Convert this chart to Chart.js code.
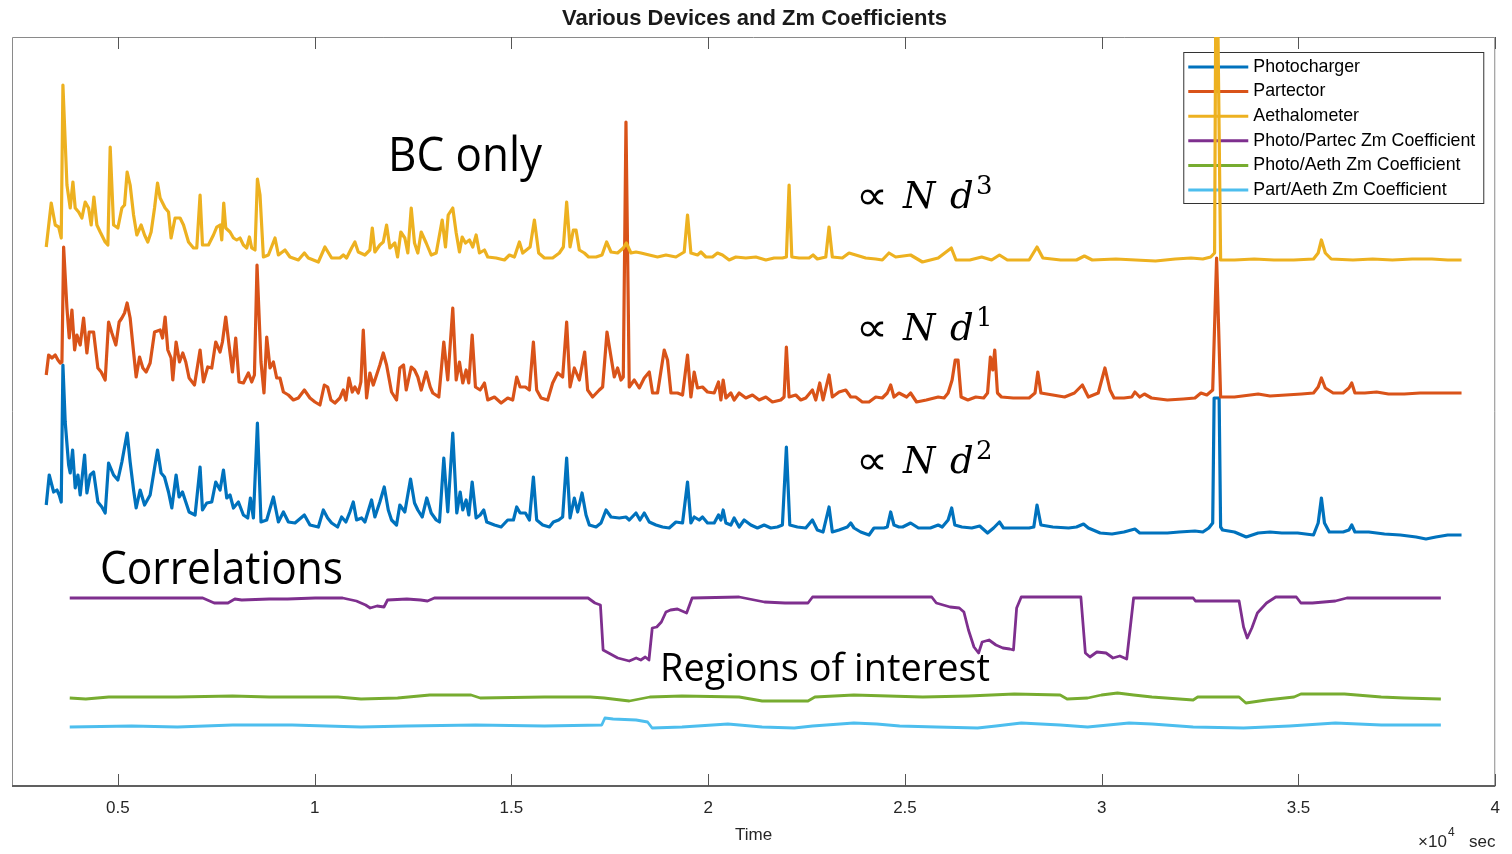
<!DOCTYPE html>
<html>
<head>
<meta charset="utf-8">
<title>Various Devices and Zm Coefficients</title>
<script src="https://cdn.jsdelivr.net/npm/chart.js@4.4.0/dist/chart.umd.min.js"></script>
<style>
  html, body { margin: 0; padding: 0; background: #fff; }
  #wrap { width: 1512px; height: 854px; }
</style>
</head>
<body>
<div id="wrap"><canvas id="zmChart" width="1512" height="854"></canvas></div>
<script>
// Time axis, seconds
const xTicks = [5000, 10000, 15000, 20000, 25000, 30000, 35000, 40000];

// Photocharger (signal, arbitrary offset units)
const photoTime = [
    3180, 3256, 3368, 3452, 3510, 3561, 3604, 3662, 3749, 3789,
    3850, 3916, 3985, 4043, 4155, 4213, 4297, 4383, 4492, 4594,
    4678, 4764, 4891, 5000, 5102, 5236, 5312, 5399, 5465, 5566,
    5678, 5820, 5932, 6008, 6099, 6185, 6287, 6371, 6480, 6556,
    6642, 6726, 6810, 6962, 7089, 7150, 7259, 7386, 7487, 7597,
    7683, 7767, 7850, 7937, 8063, 8190, 8300, 8368, 8444, 8546,
    8637, 8782, 8952, 9079, 9206, 9333, 9500, 9739, 9881, 10094,
    10221, 10330, 10432, 10584, 10685, 10795, 10896, 10982, 11066, 11193,
    11277, 11447, 11531, 11657, 11769, 11871, 11954, 12081, 12165, 12292,
    12437, 12538, 12622, 12733, 12850, 12962, 13089, 13173, 13282, 13383,
    13510, 13612, 13698, 13764, 13850, 13917, 14003, 14104, 14206, 14297,
    14373, 14569, 14739, 14906, 15051, 15135, 15221, 15356, 15457, 15559,
    15642, 15795, 15965, 16066, 16201, 16302, 16404, 16490, 16599, 16683,
    16795, 16896, 16980, 17150, 17277, 17404, 17531, 17741, 17911, 17995,
    18165, 18267, 18376, 18503, 18673, 18840, 19010, 19180, 19348, 19475,
    19561, 19645, 19772, 19856, 19983, 20153, 20262, 20323, 20381, 20450,
    20576, 20660, 20787, 20914, 21084, 21252, 21422, 21591, 21759, 21886,
    21987, 22074, 22267, 22480, 22648, 22774, 22919, 23071, 23155, 23325,
    23536, 23622, 23706, 23876, 24087, 24213, 24467, 24551, 24637, 24721,
    24848, 24942, 25143, 25343, 25645, 25845, 25947, 26097, 26188, 26267,
    26447, 26698, 26899, 27099, 27252, 27401, 27503, 27752, 28155, 28274,
    28356, 28455, 28757, 29158, 29358, 29538, 29660, 29960, 30262, 30564,
    30843, 30965, 31264, 31668, 31967, 32369, 32569, 32721, 32820, 32856,
    32983, 33021, 33071, 33373, 33672, 33975, 34277, 34577, 34978, 35381,
    35500, 35582, 35660, 35782, 36133, 36282, 36353, 36434, 36785, 37185,
    37587, 37988, 38239, 38490, 38792, 39143
];
const photoSignal = [
    281, 311, 294, 296, 291, 284, 421, 364, 321, 313,
    336, 298, 311, 291, 331, 293, 311, 314, 284, 279,
    273, 323, 311, 306, 324, 353, 324, 296, 278, 296,
    281, 291, 318, 336, 313, 309, 294, 278, 311, 289,
    294, 284, 274, 271, 319, 276, 283, 284, 304, 296,
    316, 288, 291, 278, 284, 271, 268, 288, 268, 363,
    264, 266, 289, 264, 274, 264, 263, 271, 261, 259,
    276, 268, 263, 259, 269, 264, 274, 284, 266, 268,
    264, 286, 269, 284, 299, 276, 266, 261, 281, 274,
    307, 283, 276, 269, 288, 273, 266, 264, 328, 274,
    353, 273, 294, 276, 286, 271, 304, 268, 271, 276,
    264, 261, 259, 266, 266, 279, 273, 273, 266, 309,
    266, 261, 259, 264, 266, 269, 328, 268, 288, 274,
    293, 271, 261, 259, 263, 276, 269, 268, 269, 266,
    273, 266, 273, 264, 261, 259, 258, 264, 263, 304,
    263, 269, 266, 269, 263, 263, 271, 266, 276, 263,
    261, 268, 259, 266, 261, 258, 261, 258, 259, 261,
    339, 261, 259, 258, 266, 256, 254, 279, 254, 256,
    259, 263, 258, 254, 251, 258, 258, 259, 274, 261,
    259, 259, 263, 258, 258, 261, 259, 266, 278, 261,
    259, 258, 260, 253, 258, 264, 258, 258, 258, 259,
    281, 261, 259, 258, 259, 262, 258, 253, 252, 254,
    257, 253, 253, 253, 254, 255, 254, 258, 263, 388,
    388, 259, 256, 254, 249, 253, 254, 253, 253, 251,
    263, 288, 263, 254, 254, 256, 261, 254, 254, 252,
    251, 249, 247, 249, 251, 251
];

// Partector
const partTime = [
    3180, 3241, 3325, 3409, 3477, 3536, 3579, 3622, 3706, 3764,
    3833, 3901, 3959, 4043, 4129, 4213, 4272, 4383, 4492, 4576,
    4678, 4764, 4848, 4949, 5033, 5102, 5170, 5236, 5312, 5399,
    5465, 5551, 5635, 5718, 5820, 5932, 6074, 6135, 6201, 6269,
    6353, 6396, 6480, 6566, 6650, 6726, 6810, 6947, 7089, 7175,
    7284, 7386, 7487, 7597, 7657, 7741, 7825, 7911, 7995, 8079,
    8190, 8317, 8401, 8470, 8536, 8637, 8713, 8782, 8866, 8952,
    9036, 9119, 9206, 9333, 9460, 9586, 9739, 9881, 10008, 10135,
    10246, 10330, 10414, 10515, 10642, 10729, 10795, 10871, 10957, 11023,
    11109, 11175, 11236, 11320, 11404, 11490, 11574, 11657, 11744, 11828,
    11954, 12081, 12165, 12259, 12328, 12454, 12538, 12622, 12708, 12835,
    12937, 13003, 13155, 13282, 13383, 13510, 13597, 13680, 13764, 13850,
    13917, 14003, 14086, 14206, 14315, 14399, 14569, 14739, 14906, 15033,
    15135, 15221, 15356, 15457, 15559, 15642, 15754, 15922, 16048, 16175,
    16302, 16404, 16490, 16599, 16726, 16861, 16937, 17064, 17234, 17318,
    17429, 17531, 17614, 17698, 17784, 17843, 17911, 17995, 18122, 18249,
    18376, 18503, 18587, 18713, 18883, 18967, 19054, 19221, 19348, 19475,
    19561, 19645, 19729, 19856, 19983, 20153, 20262, 20323, 20381, 20450,
    20576, 20660, 20787, 20957, 21125, 21295, 21465, 21632, 21845, 21929,
    21987, 22056, 22226, 22353, 22480, 22648, 22734, 22835, 22919, 23071,
    23155, 23325, 23495, 23622, 23749, 23917, 24087, 24257, 24424, 24551,
    24637, 24721, 24848, 25044, 25143, 25295, 25544, 25845, 25995, 26097,
    26198, 26277, 26348, 26427, 26599, 26800, 27000, 27099, 27171, 27231,
    27282, 27351, 27452, 27752, 28155, 28305, 28376, 28455, 28757, 29056,
    29307, 29508, 29660, 29911, 30082, 30211, 30313, 30564, 30764, 30843,
    30965, 31084, 31264, 31668, 32069, 32369, 32521, 32671, 32820, 32919,
    33021, 33373, 33775, 33975, 34277, 34678, 35079, 35381, 35500, 35582,
    35681, 35881, 36133, 36282, 36353, 36434, 36685, 36985, 37287, 37688,
    38089, 38592, 39143
];
const partSignal = [
    411, 431, 428, 431, 426, 423, 424, 539, 478, 448,
    476, 436, 451, 441, 468, 433, 454, 454, 418, 414,
    406, 464, 453, 441, 464, 468, 473, 483, 468, 434,
    409, 429, 418, 414, 423, 454, 456, 448, 469, 436,
    428, 406, 444, 424, 433, 424, 408, 401, 436, 404,
    419, 418, 444, 434, 444, 469, 441, 414, 448, 404,
    403, 413, 404, 411, 521, 424, 393, 449, 418, 424,
    408, 408, 394, 391, 386, 388, 396, 388, 384, 381,
    401, 399, 386, 383, 388, 396, 386, 408, 394, 399,
    393, 404, 456, 388, 413, 401, 411, 421, 433, 421,
    394, 386, 418, 421, 396, 419, 416, 409, 396, 414,
    399, 393, 389, 444, 406, 478, 406, 424, 403, 416,
    403, 451, 399, 396, 403, 386, 389, 383, 388, 386,
    409, 399, 399, 396, 444, 396, 388, 386, 403, 413,
    409, 464, 399, 418, 406, 434, 396, 389, 396, 399,
    454, 429, 409, 418, 406, 409, 664, 399, 406, 398,
    408, 414, 393, 393, 436, 426, 393, 393, 391, 431,
    389, 414, 398, 399, 394, 393, 404, 386, 406, 388,
    393, 386, 393, 388, 391, 386, 389, 384, 386, 389,
    439, 389, 391, 386, 388, 396, 386, 403, 386, 411,
    389, 394, 396, 389, 389, 384, 384, 389, 388, 393,
    401, 389, 393, 389, 393, 384, 386, 389, 388, 393,
    406, 426, 426, 389, 386, 389, 388, 393, 429, 416,
    436, 393, 389, 388, 388, 393, 414, 393, 391, 389,
    393, 401, 389, 393, 418, 396, 388, 388, 389, 394,
    389, 392, 388, 386, 387, 388, 393, 391, 396, 528,
    389, 389, 391, 392, 390, 391, 392, 393, 399, 408,
    398, 393, 393, 398, 403, 393, 393, 394, 392, 392,
    393, 393, 393
];

// Aethalometer
const aethTime = [
    3180, 3307, 3409, 3495, 3561, 3604, 3706, 3789, 3858, 3916,
    4003, 4086, 4170, 4256, 4322, 4391, 4467, 4551, 4678, 4746,
    4805, 4891, 5000, 5102, 5170, 5236, 5312, 5399, 5482, 5592,
    5678, 5761, 5845, 5932, 6008, 6074, 6201, 6287, 6353, 6454,
    6581, 6668, 6795, 6921, 7005, 7089, 7150, 7302, 7429, 7513,
    7597, 7640, 7690, 7741, 7850, 7937, 8020, 8104, 8190, 8274,
    8343, 8401, 8485, 8546, 8612, 8698, 8825, 8993, 9079, 9246,
    9373, 9586, 9739, 9840, 10094, 10262, 10432, 10642, 10729, 10812,
    10939, 11023, 11109, 11277, 11404, 11465, 11531, 11657, 11744, 11828,
    11912, 12038, 12107, 12190, 12292, 12368, 12454, 12538, 12622, 12708,
    12835, 12962, 13089, 13241, 13325, 13394, 13510, 13597, 13680, 13749,
    13833, 13934, 14018, 14104, 14188, 14315, 14399, 14612, 14822, 14949,
    15076, 15203, 15287, 15475, 15584, 15693, 15838, 16048, 16218, 16320,
    16404, 16490, 16574, 16642, 16726, 16853, 16962, 17150, 17302, 17419,
    17531, 17698, 17843, 17919, 18038, 18165, 18292, 18503, 18713, 18927,
    19180, 19391, 19475, 19561, 19729, 19815, 19942, 20109, 20236, 20363,
    20533, 20703, 20957, 21211, 21465, 21675, 21886, 21987, 22056, 22125,
    22310, 22564, 22665, 22774, 22988, 23071, 23155, 23409, 23579, 23749,
    24003, 24257, 24424, 24594, 24764, 25143, 25444, 25845, 26178, 26297,
    26648, 26949, 27201, 27401, 27602, 28155, 28356, 28505, 28957, 29358,
    29559, 29759, 30361, 30863, 31366, 31868, 32269, 32569, 32769, 32868,
    32900, 32940, 33021, 33373, 33874, 34376, 34879, 35381, 35500, 35582,
    35681, 35831, 36384, 36886, 37386, 37889, 38391, 38792, 39143
];
const aethSignal = [
    539, 583, 561, 559, 548, 701, 601, 578, 604, 578,
    574, 568, 584, 578, 561, 589, 561, 554, 544, 541,
    639, 561, 558, 578, 581, 614, 601, 571, 551, 561,
    551, 544, 554, 578, 603, 588, 578, 574, 548, 568,
    568, 561, 544, 538, 538, 591, 541, 541, 551, 559,
    561, 546, 583, 558, 554, 548, 546, 548, 541, 538,
    549, 538, 536, 607, 591, 529, 531, 548, 531, 536,
    529, 526, 533, 528, 524, 539, 528, 528, 531, 528,
    538, 544, 534, 531, 536, 558, 534, 541, 544, 561,
    538, 543, 529, 554, 548, 533, 578, 543, 533, 554,
    543, 531, 533, 566, 539, 571, 578, 553, 534, 549,
    543, 546, 539, 551, 533, 536, 529, 528, 526, 531,
    529, 544, 533, 539, 566, 533, 528, 528, 533, 539,
    584, 539, 556, 556, 536, 533, 529, 529, 531, 544,
    534, 533, 538, 543, 533, 534, 533, 531, 529, 531,
    529, 534, 571, 533, 531, 534, 529, 529, 533, 531,
    526, 529, 528, 529, 526, 528, 528, 529, 601, 529,
    528, 528, 531, 527, 529, 559, 529, 528, 533, 531,
    528, 527, 526, 533, 529, 531, 524, 528, 538, 526,
    526, 529, 526, 531, 526, 526, 539, 528, 526, 526,
    530, 526, 527, 526, 525, 527, 528, 527, 529, 533,
    800, 800, 526, 526, 527, 526, 526, 527, 533, 546,
    533, 527, 526, 527, 526, 527, 527, 526, 526
];

// Photo/Partec Zm Coefficient
const ppTime = [
    3777, 7157, 7449, 7797, 7972, 8147, 8848, 9312, 10013, 10711,
    11061, 11295, 11411, 11586, 11762, 11853, 12343, 12693, 12868, 13043,
    14673, 16947, 17122, 17262, 17330, 17470, 17703, 17995, 18170, 18287,
    18401, 18495, 18579, 18693, 18810, 18927, 19043, 19218, 19452, 19592,
    20787, 21429, 21952, 22536, 22652, 24282, 25680, 25797, 26147, 26381,
    26498, 26614, 26754, 26871, 26962, 27137, 27312, 27488, 27663, 27757,
    27838, 27955, 28944, 29470, 29584, 29701, 29876, 30110, 30285, 30460,
    30635, 30810, 32323, 32381, 33490, 33604, 33698, 33815, 33955, 34188,
    34422, 34945, 35061, 35354, 35937, 36229, 38617
];
const ppCoef = [
    188, 188, 183, 183, 187, 186, 187, 187, 188, 188,
    185, 181, 178, 180, 179, 186, 187, 186, 185, 188,
    188, 188, 183, 181, 136, 133, 128, 125, 128, 126,
    129, 126, 158, 159, 164, 174, 176, 177, 173, 188,
    189, 184, 183, 183, 189, 189, 189, 183, 179, 178,
    174, 156, 139, 133, 144, 146, 141, 138, 137, 136,
    178, 189, 189, 189, 133, 129, 134, 133, 128, 130,
    127, 188, 188, 185, 185, 159, 148, 158, 173, 183,
    189, 189, 183, 183, 185, 188, 188
];

// Photo/Aeth Zm Coefficient
const paTime = [
    3777, 4185, 4769, 6515, 7914, 8848, 10594, 11178, 12109, 12927,
    13975, 14208, 15838, 17005, 17353, 17995, 18518, 19335, 20787, 21371,
    22536, 22711, 23701, 25450, 26614, 27780, 28944, 29120, 29643, 29993,
    30401, 30810, 31275, 32323, 32439, 33490, 33663, 34188, 34886, 35061,
    36168, 37102, 37686, 38617
];
const paCoef = [
    88, 87, 89, 89, 90, 89, 89, 87, 88, 91,
    91, 88, 89, 89, 88, 85, 89, 90, 89, 85,
    85, 89, 91, 89, 90, 92, 91, 87, 88, 91,
    93, 91, 89, 86, 89, 89, 83, 86, 89, 92,
    92, 89, 88, 87
];

// Part/Aeth Zm Coefficient
const aaTime = [
    3777, 5350, 6515, 7914, 9429, 11178, 12343, 14091, 15838, 17295,
    17376, 17584, 18170, 18460, 18576, 19335, 20500, 21371, 22186, 22652,
    23701, 24282, 24865, 25797, 26846, 27312, 27955, 28944, 29643, 30693,
    31275, 32323, 33604, 34772, 35937, 37102, 38617
];
const aaCoef = [
    59, 60, 59, 61, 61, 59, 60, 61, 60, 61,
    68, 67, 66, 64, 58, 59, 62, 59, 58, 60,
    63, 62, 60, 59, 58, 60, 63, 61, 59, 63,
    62, 59, 58, 60, 63, 61, 61
];

// MATLAB default line colours
const colors = {
    blue: '#0072BD',
    orange: '#D95319',
    yellow: '#EDB120',
    purple: '#7E2F8E',
    green: '#77AC30',
    cyan: '#4DBEEE'
};

const sansFont = '"Liberation Sans", Arial, sans-serif';

function toPoints(times, values) {
    return times.map((t, i) => ({ x: t, y: values[i] }));
}

// draw text squeezed or stretched to a given width
function fitText(ctx, text, x, y, width, font) {
    ctx.save();
    ctx.font = font;
    const w = ctx.measureText(text).width;
    ctx.translate(x, y);
    ctx.scale(width / w, 1);
    ctx.fillText(text, 0, 0);
    ctx.restore();
}

// box, inward ticks and the legend; datasets are painted over them
const framePlugin = {
    id: 'framePlugin',
    beforeDatasetsDraw(chart) {
        const { ctx, chartArea: a, scales: { x } } = chart;
        ctx.save();

        ctx.strokeStyle = '#8a8a8a';
        ctx.lineWidth = 1;
        ctx.beginPath();
        ctx.moveTo(a.left + 0.5, a.bottom);
        ctx.lineTo(a.left + 0.5, a.top + 0.5);
        ctx.lineTo(a.right - 0.5, a.top + 0.5);
        ctx.lineTo(a.right - 0.5, a.bottom);
        ctx.stroke();
        ctx.strokeStyle = '#606060';
        ctx.lineWidth = 2;
        ctx.beginPath();
        ctx.moveTo(a.left, a.bottom);
        ctx.lineTo(a.right, a.bottom);
        ctx.stroke();

        ctx.strokeStyle = '#555';
        ctx.lineWidth = 1;
        xTicks.forEach(v => {
            const px = Math.round(x.getPixelForValue(v)) + 0.5;
            ctx.beginPath();
            ctx.moveTo(px, a.top);
            ctx.lineTo(px, a.top + 12);
            ctx.moveTo(px, a.bottom);
            ctx.lineTo(px, a.bottom - 12);
            ctx.stroke();
        });

        // legend
        const lx = a.right - 312, ly = a.top + 15, lw = 300, lh = 151;
        ctx.fillStyle = '#fff';
        ctx.fillRect(lx, ly, lw, lh);
        ctx.strokeStyle = '#333';
        ctx.lineWidth = 1;
        ctx.strokeRect(lx + 0.5, ly + 0.5, lw, lh);
        ctx.font = '17.8px ' + sansFont;
        ctx.textBaseline = 'middle';
        ctx.textAlign = 'left';
        chart.data.datasets.forEach((ds, i) => {
            const y = ly + 15 + i * 24.6;
            ctx.strokeStyle = ds.borderColor;
            ctx.lineWidth = 3;
            ctx.beginPath();
            ctx.moveTo(lx + 5, y);
            ctx.lineTo(lx + 65, y);
            ctx.stroke();
            ctx.fillStyle = '#000';
            ctx.fillText(ds.label, lx + 70, y);
        });
        ctx.restore();
    },
    afterDatasetsDraw(chart) {
        const { ctx } = chart;
        ctx.save();
        ctx.fillStyle = '#000';
        ctx.textBaseline = 'alphabetic';
        ctx.textAlign = 'left';
        fitText(ctx, 'BC only', 388, 171, 154, '47px "Open Sans"');
        fitText(ctx, 'Correlations', 100, 584, 243, '45px "Open Sans"');
        fitText(ctx, 'Regions of interest', 660, 681, 330, '39px "Open Sans"');

        [['3', 208], ['1', 340], ['2', 473]].forEach(([k, base]) => {
            fitText(ctx, '\u221D', 856, base + 1, 32, '40px "DejaVu Sans"');
            ctx.font = 'italic 37px "DejaVu Serif"';
            ctx.fillText('N', 903, base);
            ctx.fillText('d', 950, base);
            ctx.font = '26px "DejaVu Serif"';
            ctx.fillText(k, 976, base - 14);
        });
        ctx.restore();
    },
    afterDraw(chart) {
        const { ctx } = chart;
        ctx.save();
        ctx.fillStyle = '#262626';
        ctx.textBaseline = 'alphabetic';
        ctx.textAlign = 'left';
        ctx.font = '17px ' + sansFont;
        ctx.fillText('\u00D710', 1418, 847);
        ctx.fillText('sec', 1469, 847);
        ctx.font = '12px ' + sansFont;
        ctx.fillText('4', 1448, 836);
        ctx.restore();
    }
};

function renderZmChart() {
    const canvas = document.getElementById('zmChart');
    if (!canvas) return;

    const series = [
        { label: 'Photocharger', times: photoTime, values: photoSignal, color: colors.blue, width: 3.2 },
        { label: 'Partector', times: partTime, values: partSignal, color: colors.orange, width: 3.2 },
        { label: 'Aethalometer', times: aethTime, values: aethSignal, color: colors.yellow, width: 3.2 },
        { label: 'Photo/Partec Zm Coefficient', times: ppTime, values: ppCoef, color: colors.purple, width: 2.8 },
        { label: 'Photo/Aeth Zm Coefficient', times: paTime, values: paCoef, color: colors.green, width: 2.8 },
        { label: 'Part/Aeth Zm Coefficient', times: aaTime, values: aaCoef, color: colors.cyan, width: 2.8 }
    ];

    new Chart(canvas.getContext('2d'), {
        type: 'line',
        data: {
            datasets: series.map((s, i) => ({
                label: s.label,
                data: toPoints(s.times, s.values),
                borderColor: s.color,
                backgroundColor: s.color,
                borderWidth: s.width,
                borderJoinStyle: 'round',
                pointRadius: 0,
                tension: 0,
                fill: false,
                // later series on top, as in the original plot
                order: series.length - i
            }))
        },
        options: {
            responsive: false,
            animation: false,
            devicePixelRatio: 1,
            layout: { padding: { left: 12, right: 15, top: 0, bottom: 0 } },
            plugins: {
                legend: { display: false },
                tooltip: { enabled: false },
                title: {
                    display: true,
                    text: 'Various Devices and Zm Coefficients',
                    color: '#1a1a1a',
                    font: { family: sansFont, size: 22, weight: 'bold' },
                    padding: { top: 6, bottom: 4.6 }
                }
            },
            scales: {
                x: {
                    type: 'linear',
                    min: 2310,
                    max: 40000,
                    grid: { display: false, drawTicks: false },
                    border: { display: false },
                    afterBuildTicks: scale => {
                        scale.ticks = xTicks.map(v => ({ value: v }));
                    },
                    afterFit: scale => {
                        scale.height = 68;
                    },
                    ticks: {
                        padding: 12,
                        maxRotation: 0,
                        autoSkip: false,
                        color: '#262626',
                        font: { family: sansFont, size: 17 },
                        callback: value => value / 10000
                    },
                    title: {
                        display: true,
                        text: 'Time',
                        color: '#262626',
                        font: { family: sansFont, size: 17 },
                        padding: { top: 0, bottom: 8 }
                    }
                },
                y: {
                    display: false,
                    min: 0,
                    max: 749
                }
            }
        },
        plugins: [framePlugin]
    });
}

document.addEventListener('DOMContentLoaded', function() {
    try {
        renderZmChart();
    } catch (error) {
        console.error('Error rendering chart:', error);
    }
});
</script>
</body>
</html>
